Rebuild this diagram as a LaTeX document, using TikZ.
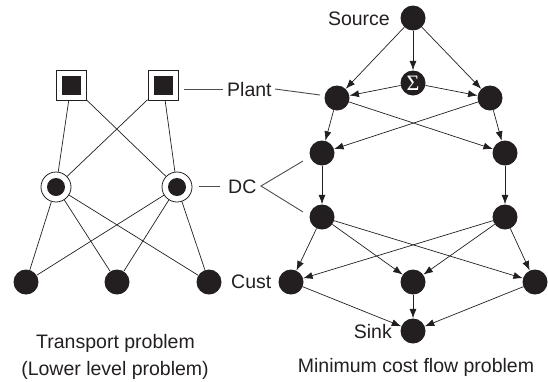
\documentclass[tikz,border=0pt]{standalone}
\usepackage{fontspec}
\setmainfont{Liberation Sans}
\newfontfamily\sigfont{Liberation Serif}
\usetikzlibrary{arrows.meta}
\definecolor{ink}{HTML}{231F20}
\begin{document}
\begin{tikzpicture}[x=1pt,y=-1pt,
  dot/.style={circle,fill=ink,minimum size=25pt,inner sep=0pt},
  plantbox/.style={draw=ink,line width=0.8pt,minimum size=30pt,inner sep=0pt,
    path picture={\fill[ink] ([shift={(-9.5pt,-9.5pt)}]path picture bounding box.center) rectangle ++(19pt,19pt);}},
  dcring/.style={circle,draw=ink,line width=0.8pt,minimum size=30pt,inner sep=0pt,
    path picture={\fill[ink] (path picture bounding box.center) circle (9pt);}},
  wire/.style={draw=ink,line width=0.7pt},
  flow/.style={wire,-{Latex[length=9.5pt,width=7pt]}},
  lbl/.style={font=\fontsize{19.5}{22}\selectfont,text=ink,inner sep=0pt},
  pointer/.style={draw=ink!80,line width=0.9pt}]
\useasboundingbox (0,0) rectangle (548,381);

% ---------- left: transport problem ----------
\node[plantbox] (p1) at (71,85) {};
\node[plantbox] (p2) at (163,85) {};
\node[dcring] (d1) at (56,187) {};
\node[dcring] (d2) at (177,187) {};
\node[dot] (c1) at (26,282) {};
\node[dot] (c2) at (117,282) {};
\node[dot] (c3) at (209,282) {};

\foreach \a in {p1,p2}{\foreach \b in {d1,d2}{\draw[wire] (\a) -- (\b);}}
\foreach \a in {d1,d2}{\foreach \b in {c1,c2,c3}{\draw[wire] (\a) -- (\b);}}

% ---------- right: minimum cost flow ----------
\node[dot] (src) at (413,18) {};
\node[dot,text=white,font=\sigfont\fontsize{22}{22}\selectfont] (sig) at (413,83) {Σ};
\node[dot] (rp1) at (337,98) {};
\node[dot] (rp2) at (490,98) {};
\node[dot] (rd1) at (322,153) {};
\node[dot] (rd2) at (505,153) {};
\node[dot] (re1) at (322,217) {};
\node[dot] (re2) at (505,217) {};
\node[dot] (rc1) at (291,282) {};
\node[dot] (rc2) at (413,282) {};
\node[dot] (rc3) at (535,282) {};
\node[dot] (snk) at (413,331) {};

\draw[flow] (src) -- (rp1);
\draw[flow] (src) -- (sig);
\draw[flow] (src) -- (rp2);
\draw[flow] (sig) -- (rp1);
\draw[flow] (sig) -- (rp2);
\foreach \a in {rp1,rp2}{\foreach \b in {rd1,rd2}{\draw[flow] (\a) -- (\b);}}
\draw[flow] (rd1) -- (re1);
\draw[flow] (rd2) -- (re2);
\foreach \a in {re1,re2}{\foreach \b in {rc1,rc2,rc3}{\draw[flow] (\a) -- (\b);}}
\foreach \a in {rc1,rc2,rc3}{\draw[flow] (\a) -- (snk);}

% ---------- labels ----------
\node[lbl,anchor=base east] (srclbl) at (390,25) {Source};
\node[lbl,anchor=base west] (plantlbl) at (227,96) {Plant};
\node[lbl,anchor=base west] (dclbl) at (228,193) {DC};
\node[lbl,anchor=base west] (custlbl) at (231,288) {Cust};
\node[lbl,anchor=base east] (sinklbl) at (392,338) {Sink};

\coordinate (pa) at (184,89);
\coordinate (pb) at (223,89);
\coordinate (pc) at (275,89);
\coordinate (pd) at (320,95);
\draw[pointer] (pa) -- (pb);
\draw[pointer] (pc) -- (pd);

\coordinate (da) at (199,186);
\coordinate (db) at (220,186);
\coordinate (dapex) at (261,186);
\coordinate (dup) at (303,161);
\coordinate (dlow) at (303,212);
\draw[pointer] (da) -- (db);
\draw[pointer] (dup) -- (dapex) -- (dlow);

\node[lbl,anchor=base] (cap1) at (115.5,348) {Transport problem};
\node[lbl,anchor=base] (cap2) at (115,375) {(Lower level problem)};
\node[lbl,anchor=base] (cap3) at (416,372) {Minimum cost flow problem};
\end{tikzpicture}
\end{document}
